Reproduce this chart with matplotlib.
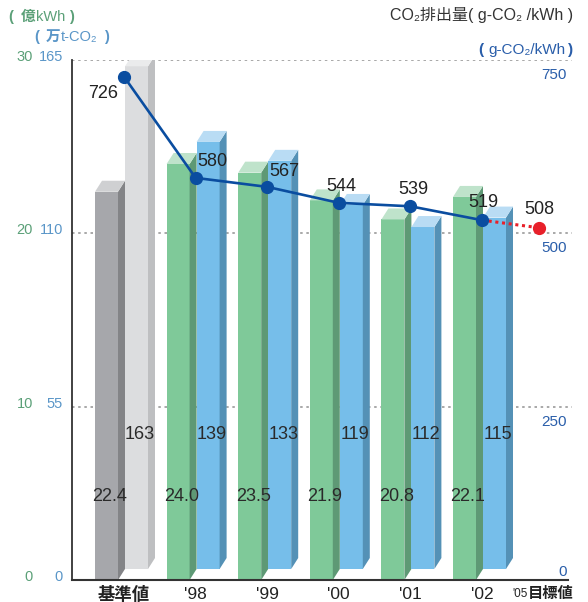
import matplotlib.pyplot as plt
from matplotlib.patches import Polygon

plt.rcParams['font.family'] = ['Liberation Sans', 'Noto Sans CJK JP', 'DejaVu Sans']

# 販売電力量・CO2排出量・排出原単位
categories = ['基準値', "'98", "'99", "'00", "'01", "'02"]
power = [22.4, 24.0, 23.5, 21.9, 20.8, 22.1]          # 億kWh
co2 = [163, 139, 133, 119, 112, 115]                  # 万t-CO2
intensity = [726, 580, 567, 544, 539, 519]            # g-CO2/kWh
target_label = "'05"
target_intensity = 508

left_ticks = [0, 10, 20, 30]
mid_ticks = [0, 55, 110, 165]
right_ticks = [0, 250, 500, 750]

W, H = 588, 602
fig = plt.figure(figsize=(W / 100, H / 100), dpi=100)
ax = fig.add_axes([72 / W, (H - 580) / H, (572 - 72) / W, (580 - 60) / H])

unit = 71.6          # px per category
ppd = 520 / 30       # px per left-axis unit
xpos = list(range(len(categories)))
target_x = 5.8
ax.set_xlim(-52 / unit, (572 - 124) / unit)
ax.set_ylim(0, 30)

bw = 23 / unit
dx = 7 / unit
dy = 11 / ppd


def box(x0, bottom, top, front, side, lid):
    x1 = x0 + bw
    ax.add_patch(Polygon([(x0, bottom), (x1, bottom), (x1, top), (x0, top)],
                         closed=True, fc=front, ec='none', zorder=2))
    ax.add_patch(Polygon([(x1, bottom), (x1 + dx, bottom + dy), (x1 + dx, top + dy), (x1, top)],
                         closed=True, fc=side, ec='none', zorder=2))
    ax.add_patch(Polygon([(x0, top), (x1, top), (x1 + dx, top + dy), (x0 + dx, top + dy)],
                         closed=True, fc=lid, ec='none', zorder=2))


for i, (p, c) in enumerate(zip(power, co2)):
    if i == 0:
        cols1 = ('#a6a7ab', '#838487', '#cfd0d2')
        cols2 = ('#dcdddf', '#bebfc1', '#eaebec')
    else:
        cols1 = ('#7fc999', '#5e9975', '#bfe3cb')
        cols2 = ('#76beea', '#5491b6', '#b9dcf4')
    x_a = i - 29 / unit
    x_b = i + 1 / unit
    box(x_a, 0, p, *cols1)
    box(x_b, dy, c * 30 / 165, *cols2)
    ax.text(x_a + (bw + dx) / 2, 4.8, f'{p:.1f}', ha='center', va='center',
            fontsize=13, color='#2a2a2a', zorder=5)
    ax.text(x_b + (bw + dx) / 2, 8.37, f'{c}', ha='center', va='center',
            fontsize=13, color='#2a2a2a', zorder=5)

# grid lines
for t in left_ticks[1:]:
    ax.axhline(t, color='#9a9a9a', lw=1.2, ls=(0, (1.5, 2.2)), zorder=1)

# intensity line
iy = [v * 30 / 750 for v in intensity]
ax.plot([xpos[-1], target_x], [iy[-1], target_intensity * 30 / 750], color='#e8202a',
        lw=2.2, ls=(0, (1, 1.2)), zorder=6)
ax.plot(target_x, target_intensity * 30 / 750, 'o', color='#e8202a', ms=8.5, zorder=7)
ax.plot(xpos, iy, color='#0a4da0', lw=1.9, marker='o', ms=8.5, zorder=7)

offsets = [(-15, -12), (12, 12), (12, 11), (2, 12), (2, 12), (1, 13)]
for x, y, v, off in zip(xpos, iy, intensity, offsets):
    ax.annotate(str(v), (x, y), xytext=off, textcoords='offset points',
                ha='center', va='center', fontsize=13, color='#222222', zorder=8)
ax.annotate(str(target_intensity), (target_x, target_intensity * 30 / 750), xytext=(0, 13),
            textcoords='offset points', ha='center', va='center', fontsize=13,
            color='#222222', zorder=8)

for s in ['top', 'right']:
    ax.spines[s].set_visible(False)
ax.spines['left'].set_color('#333333')
ax.spines['bottom'].set_color('#333333')
ax.spines['left'].set_linewidth(1.3)
ax.spines['bottom'].set_linewidth(1.5)
ax.spines['bottom'].set_bounds(-52 / unit, (568 - 124) / unit)
ax.set_xticks([])
ax.set_yticks([])


def fx(x, y):
    return x / W, 1 - y / H


# left-side tick labels
for t, m in zip(left_ticks, mid_ticks):
    ypx = 580 - t * ppd - 3
    fig.text(*fx(33, ypx), str(t), ha='right', va='center', fontsize=10.5, color='#5ba078')
    fig.text(*fx(63, ypx), str(m), ha='right', va='center', fontsize=10.5, color='#5a96c8')

# right-side tick labels
for t in right_ticks:
    ypx = 580 - t * 30 / 750 * ppd
    ypx = ypx - 8 if t == 0 else ypx + 15
    fig.text(*fx(567, ypx), str(t), ha='right', va='center', fontsize=11, color='#2a5eaa')

# x labels
for x, lab in zip(xpos, categories):
    bold = 'bold' if lab == '基準値' else 'normal'
    ax.text(x, -0.85, lab, ha='center', va='center', fontsize=12.5, fontweight=bold,
            color='#222222', transform=ax.transData, clip_on=False)
fig.text(*fx(528, 594), target_label, ha='right', va='center', fontsize=8.5, color='#222222')
fig.text(*fx(528, 594), '目標値', ha='left', va='center', fontsize=11,
         fontweight='bold', color='#222222')


def caption(y, parts, color):
    # parts: (text, weight, left x in px)
    for txt, wt, x in parts:
        fig.text(*fx(x, y), txt, ha='left', va='center', fontsize=10.5, fontweight=wt,
                 color=color)


caption(17, [('(', 'bold', 8), ('億', 'bold', 21), ('kWh', 'normal', 36), (')', 'bold', 69)],
        '#5ba078')
caption(37, [('(', 'bold', 34), ('万', 'bold', 46), ('t-CO₂', 'normal', 61), (')', 'bold', 104)],
        '#5a96c8')
fig.text(*fx(573, 15), 'CO₂排出量( g-CO₂ /kWh )', ha='right', va='center',
         fontsize=11.5, color='#333333')
fig.text(*fx(478, 50), '(', ha='left', va='center', fontsize=11, fontweight='bold',
         color='#2a5eaa')
fig.text(*fx(488, 50), 'g-CO₂/kWh', ha='left', va='center', fontsize=11, color='#2a5eaa')
fig.text(*fx(573, 50), ')', ha='right', va='center', fontsize=11, fontweight='bold',
         color='#2a5eaa')

fig.savefig('out.png', dpi=100)
